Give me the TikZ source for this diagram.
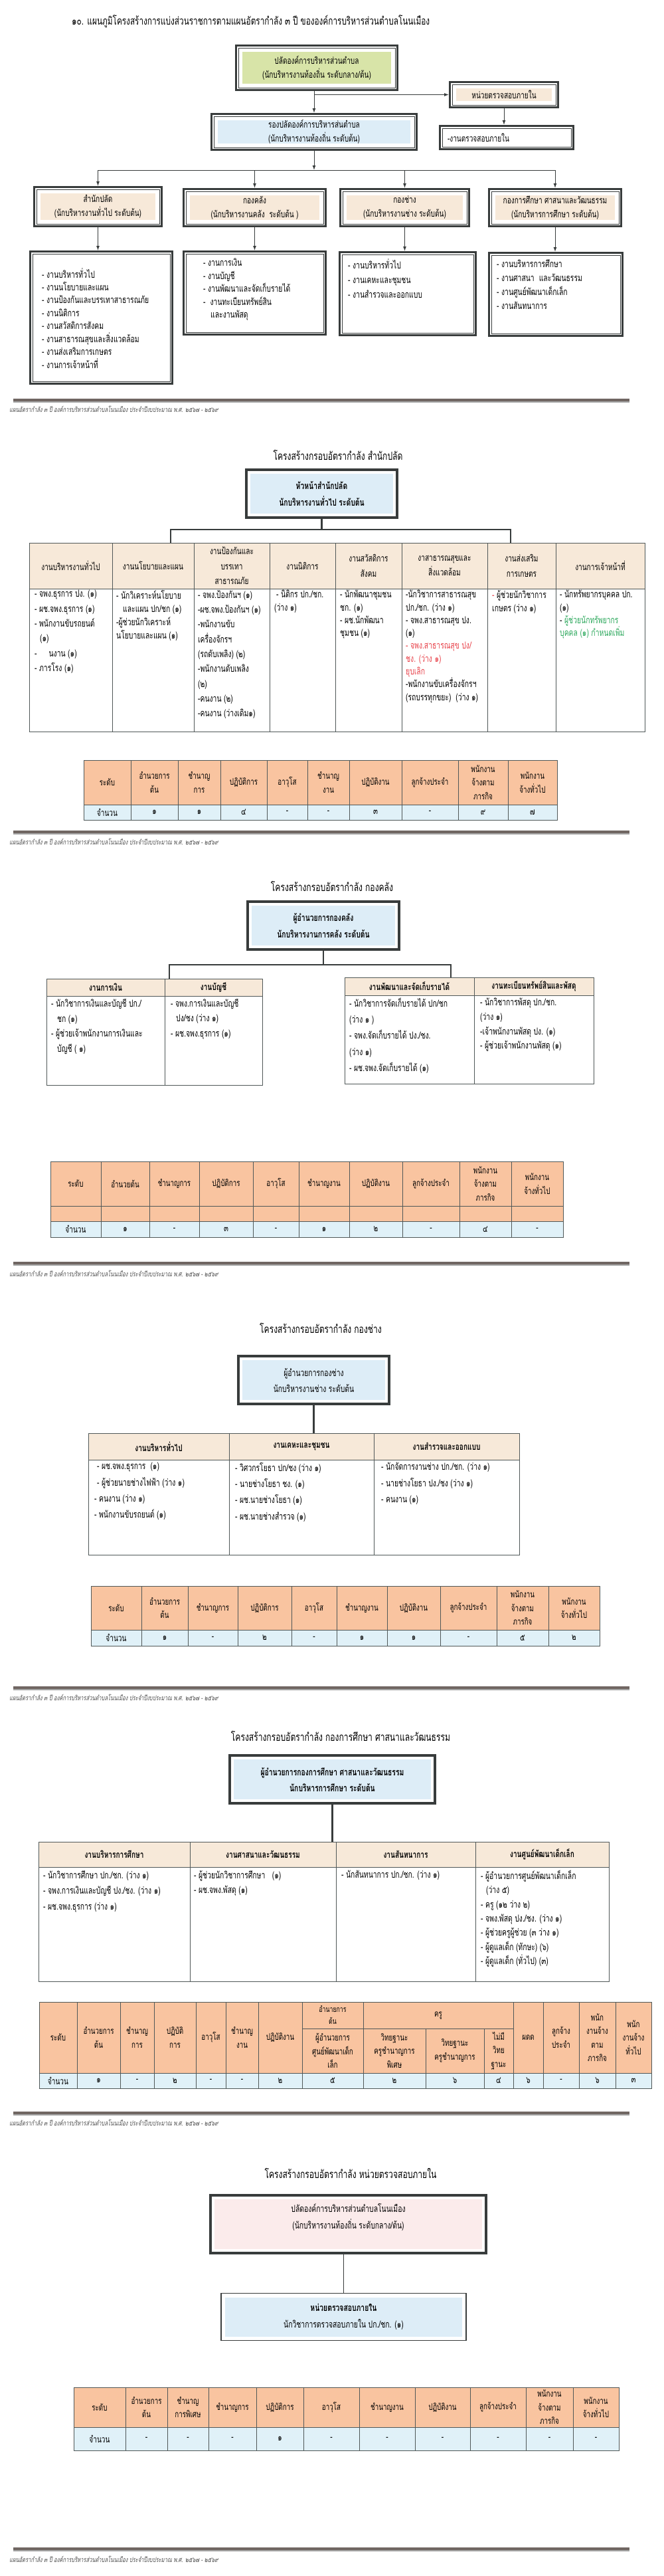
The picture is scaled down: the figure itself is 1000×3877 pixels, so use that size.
\documentclass[tikz,border=0pt]{standalone}
\usepackage{fontspec}
\newfontfamily\thai[Script=Thai,FakeStretch=0.72]{Loma}
\newfontfamily\thaifoot[Script=Thai,FakeStretch=0.72,FakeSlant=0.2]{Loma}
\usetikzlibrary{arrows.meta, positioning, calc}
\setlength{\lineskiplimit}{-20pt}
\definecolor{boxline}{RGB}{56,60,60}
\definecolor{gridline}{RGB}{80,88,88}
\definecolor{limefill}{RGB}{216,228,168}
\definecolor{skyfill}{RGB}{221,237,247}
\definecolor{peachfill}{RGB}{247,233,217}
\definecolor{salmonfill}{RGB}{249,196,160}
\definecolor{icefill}{RGB}{224,241,248}
\definecolor{rosefill}{RGB}{251,235,235}
\definecolor{footrule}{RGB}{112,102,98}
\definecolor{redtxt}{RGB}{232,64,72}
\definecolor{greentxt}{RGB}{44,168,92}
\tikzset{
    every node/.style={inner sep=0pt, font=\thai\fontsize{14}{21}\selectfont},
    arr/.style={-{Latex[length=7pt, width=5pt]}, draw=boxline, line width=1pt},
    link/.style={draw=boxline, line width=2.6pt},
    dframe/.style={rectangle, draw=boxline, line width=0.8pt, fill=white,
                   align=center, outer sep=5pt,
                   append after command={\pgfextra{\draw[boxline, line width=3.4pt]
                       ([shift={(1.7pt,-1.7pt)}]\tikzlastnode.north west) rectangle
                       ([shift={(-1.7pt,1.7pt)}]\tikzlastnode.south east);}}},
    tint/.style={path picture={\fill[#1]
                       ([shift={(6pt,-6pt)}]path picture bounding box.north west) rectangle
                       ([shift={(-6pt,6pt)}]path picture bounding box.south east);}},
    headbox/.style={rectangle, draw=boxline, line width=4.5pt, fill=white,
                    align=center, outer sep=2.25pt},
    listtxt/.style={anchor=north west, align=left,
                    font=\thai\fontsize{14.4}{#1}\selectfont},
    listtxt/.default=21,
    sectitle/.style={font=\thai\fontsize{16.8}{22}\selectfont},
    hcell/.style={rectangle, draw=gridline, line width=0.8pt, fill=peachfill,
                  align=center, font=\thai\fontsize{14}{22.5}\selectfont},
    hcellb/.style={hcell, font=\thai\bfseries\fontsize{14}{22.5}\selectfont},
    bcell/.style={rectangle, draw=gridline, line width=0.8pt, fill=white},
    shead/.style={rectangle, draw=gridline, line width=0.7pt, fill=salmonfill,
                  align=center, font=\thai\fontsize{13.6}{20.5}\selectfont},
    sval/.style={rectangle, draw=gridline, line width=0.7pt, fill=icefill,
                 font=\thai\fontsize{14}{16}\selectfont},
    foottxt/.style={anchor=west, text=black!70,
                    font=\thaifoot\fontsize{10.5}{12}\selectfont},
}
\begin{document}
\begin{tikzpicture}[x=1pt, y=-1pt]
    \useasboundingbox (0,0) rectangle (1000,3877);

    % ---------- overall structure ----------
    \node[anchor=west, font=\thai\fontsize{16.4}{18}\selectfont] (title1) at (108,32)
        {๑๐. แผนภูมิโครงสร้างการแบ่งส่วนราชการตามแผนอัตรากำลัง ๓ ปี ขององค์การบริหารส่วนตำบลโนนเมือง};
    \node[dframe, tint=limefill, minimum width=236, minimum height=60] (palad) at (477,102)
        {ปลัดองค์การบริหารส่วนตำบล\\(นักบริหารงานท้องถิ่น ระดับกลาง/ต้น)};
    \node[dframe, tint=peachfill, minimum width=156, minimum height=31] (audit) at (759,142.5)
        {หน่วยตรวจสอบภายใน};
    \node[dframe, minimum width=194, minimum height=28, text width=178, align=left] (auditjob) at (763,207)
        {-งานตรวจสอบภายใน};
    \node[dframe, tint=skyfill, minimum width=302, minimum height=47] (rong) at (473,198.5)
        {รองปลัดองค์การบริหารส่นตำบล\\(นักบริหารงานท้องถิ่น ระดับต้น)};

    \node[dframe, tint=peachfill, minimum width=185, minimum height=52] (sp) at (147.5,311)
        {สำนักปลัด\\(นักบริหารงานทั่วไป ระดับต้น)};
    \node[dframe, tint=peachfill, minimum width=207, minimum height=49] (fin) at (383.5,312.5)
        {กองคลัง\\(นักบริหารงานคลัง\ \ ระดับต้น )};
    \node[dframe, tint=peachfill, minimum width=187, minimum height=49] (eng) at (609.5,312.5)
        {กองช่าง\\(นักบริหารงานช่าง ระดับต้น)};
    \node[dframe, tint=peachfill, minimum width=192, minimum height=49] (edu) at (836,312.5)
        {กองการศึกษา ศาสนาและวัฒนธรรม\\(นักบริหารการศึกษา ระดับต้น)};

    \node[dframe, minimum width=207, minimum height=192] (listsp) at (152.5,478) {};
    \node[dframe, minimum width=207, minimum height=118] (listfin) at (383.5,441) {};
    \node[dframe, minimum width=198, minimum height=118] (listeng) at (614,442) {};
    \node[dframe, minimum width=194, minimum height=118] (listedu) at (837,443) {};
    \node[listtxt=19.45] (txtsp) at (63,403)
        {- งานบริหารทั่วไป\\- งานนโยบายและแผน\\- งานป้องกันและบรรเทาสาธารณภัย\\- งานนิติการ\\- งานสวัสดิการสังคม\\- งานสาธารณสุขและสิ่งแวดล้อม\\- งานส่งเสริมการเกษตร\\- งานการเจ้าหน้าที่};
    \node[listtxt=19.5] (txtfin) at (306,389)
        {- งานการเงิน\\- งานบัญชี\\- งานพัฒนาและจัดเก็บรายได้\\-\hspace{7pt}งานทะเบียนทรัพย์สิน\\\hspace*{11pt}และงานพัสดุ};
    \node[listtxt=22] (txteng) at (524,389)
        {- งานบริหารทั่วไป\\- งานเคหะและชุมชน\\- งานสำรวจและออกแบบ};
    \node[listtxt=21.3] (txtedu) at (748,390)
        {- งานบริหารการศึกษา\\- งานศาสนา\ \ และวัฒนธรรม\\- งานศูนย์พัฒนาเด็กเล็ก\\- งานสันทนาการ};

    \coordinate (bus) at (473,256);
    \draw[arr] (palad.south -| rong.north) -- (rong.north);
    \draw[arr] (audit.west -| rong.north) -- (audit.west);
    \draw[arr] (audit.south) -- (audit.south |- auditjob.north);
    \draw[arr] (rong.south) -- (rong.south |- bus);
    \draw[boxline, line width=1pt] (sp.north |- bus) -- (edu.north |- bus);
    \foreach \dv in {sp, fin, eng, edu} {
        \draw[arr] (\dv.north |- bus) -- (\dv.north);
        \draw[arr] (\dv.south) -- (\dv.south |- list\dv.north);
    }

    \draw[footrule, line width=3.5pt] (20,602) -- (948,602);
    \draw[black!35, line width=1.5pt] (20,605) -- (948,605);
    \node[foottxt] (foot1) at (14,616)
        {แผนอัตรากำลัง ๓ ปี องค์การบริหารส่วนตำบลโนนเมือง ประจำปีงบประมาณ พ.ศ. ๒๕๖๗ - ๒๕๖๙};

    % ---------- สำนักปลัด ----------
    \node[sectitle] (title2) at (509,685) {โครงสร้างกรอบอัตรากำลัง สำนักปลัด};
    \node[headbox, tint=skyfill, minimum width=227, minimum height=72,
          font=\thai\bfseries\fontsize{14.4}{25}\selectfont] (head2) at (484.5,743)
        {หัวหน้าสำนักปลัด\\นักบริหารงานทั่วไป ระดับต้น};

    \node[hcell, minimum width=125, minimum height=69] (t2h1) at (106.5,851.5) {งานบริหารงานทั่วไป};
    \node[hcell, minimum width=123, minimum height=69] (t2h2) at (230.5,851.5) {งานนโยบายและแผน};
    \node[hcell, minimum width=114, minimum height=69] (t2h3) at (349,851.5) {งานป้องกันและ\\บรรเทา\\สาธารณภัย};
    \node[hcell, minimum width=99, minimum height=69] (t2h4) at (455.5,851.5) {งานนิติการ};
    \node[hcell, minimum width=100, minimum height=69] (t2h5) at (555,851.5) {งานสวัสดิการ\\สังคม};
    \node[hcell, minimum width=129, minimum height=69] (t2h6) at (669.5,851.5) {งาสาธารณสุขและ\\สิ่งแวดล้อม};
    \node[hcell, minimum width=103, minimum height=69] (t2h7) at (785.5,851.5) {งานส่งเสริม\\การเกษตร};
    \node[hcell, minimum width=134, minimum height=69] (t2h8) at (904,851.5) {งานการเจ้าหน้าที่};
    \node[bcell, minimum width=125, minimum height=215] (t2b1) at (106.5,993.5) {};
    \node[bcell, minimum width=123, minimum height=215] (t2b2) at (230.5,993.5) {};
    \node[bcell, minimum width=114, minimum height=215] (t2b3) at (349,993.5) {};
    \node[bcell, minimum width=99, minimum height=215] (t2b4) at (455.5,993.5) {};
    \node[bcell, minimum width=100, minimum height=215] (t2b5) at (555,993.5) {};
    \node[bcell, minimum width=129, minimum height=215] (t2b6) at (669.5,993.5) {};
    \node[bcell, minimum width=103, minimum height=215] (t2b7) at (785.5,993.5) {};
    \node[bcell, minimum width=134, minimum height=215] (t2b8) at (904,993.5) {};

    \node[listtxt=22.4] (t2x1) at (52,888)
        {- จพง.ธุรการ ปง. (๑)\\- ผช.จพง.ธุรการ (๑)\\- พนักงานขับรถยนต์\\\hspace*{8pt}(๑)\\-\hspace{18pt}นงาน (๑)\\- ภารโรง (๑)};
    \node[listtxt=20] (t2x2) at (175,888)
        {- นักวิเคราะห์นโยบาย\\\hspace*{10pt}และแผน ปก/ชก (๑)\\-ผู้ช่วยนักวิเคราะห์\\นโยบายและแผน (๑)};
    \node[listtxt=22.3] (t2x3) at (298,888)
        {- จพง.ป้องกันฯ (๑)\\-ผช.จพง.ป้องกันฯ (๑)\\-พนักงานขับ\\เครื่องจักรฯ\\(รถดับเพลิง) (๒)\\-พนักงานดับเพลิง\\(๒)\\-คนงาน (๒)\\-คนงาน (ว่างเดิม๑)};
    \node[listtxt=19.5] (t2x4) at (413,888)
        {\hspace*{3pt}- นิติกร ปก./ชก.\\(ว่าง ๑)};
    \node[listtxt=19.3] (t2x5) at (512,888)
        {- นักพัฒนาชุมชน\\ชก. (๑)\\- ผช.นักพัฒนา\\ชุมชน (๑)};
    \node[listtxt=19.3] (t2x6) at (611,888)
        {-นักวิชาการสาธารณสุข\\ปก./ชก. (ว่าง ๑)\\- จพง.สาธารณสุข ปง.\\(๑)\\\textcolor{redtxt}{- จพง.สาธารณสุข ปง/}\\\textcolor{redtxt}{ชง. (ว่าง ๑)}\\\textcolor{redtxt}{ยุบเลิก}\\-พนักงานขับเครื่องจักรฯ\\(รถบรรทุกขยะ)\ \ (ว่าง ๑)};
    \node[listtxt=20] (t2x7) at (741,888)
        {\textcolor{redtxt}{-} ผู้ช่วยนักวิชาการ\\เกษตร (ว่าง ๑)};
    \node[listtxt=19.3] (t2x8) at (843,888)
        {- นักทรัพยากรบุคคล ปก.\\(๑)\\- \textcolor{greentxt}{ผู้ช่วยนักทรัพยากร}\\\textcolor{greentxt}{บุคคล (๑) กำหนดเพิ่ม}};

    \coordinate (j2l) at (257,797);
    \coordinate (j2r) at (769,797);
    \draw[link] (head2.south) -- (head2.south |- j2l);
    \draw[link] (j2l |- t2h1.north) -- (j2l) -- (j2r) -- (j2r |- t2h1.north);

    \foreach \xa/\xb/\hd/\val [count=\i] in {
            126/197/ระดับ/จำนวน, 197/268/{อำนวยการ\\ต้น}/๑, 268/332/{ชำนาญ\\การ}/๑,
            332/402/ปฏิบัติการ/๔, 402/463/อาวุโส/-, 463/526/{ชำนาญ\\งาน}/-,
            526/605/ปฏิบัติงาน/๓, 605/690/ลูกจ้างประจำ/-,
            690/765/{พนักงาน\\จ้างตาม\\ภารกิจ}/๙, 765/839/{พนักงาน\\จ้างทั่วไป}/๗} {
        \node[shead, minimum width=\xb-\xa, minimum height=67] (s2h\i) at ({(\xa+\xb)/2},1177.5) {\hd};
        \node[sval, minimum width=\xb-\xa, minimum height=23] (s2v\i) at ({(\xa+\xb)/2},1222.5) {\val};
    }

    \draw[footrule, line width=3.5pt] (20,1252) -- (948,1252);
    \draw[black!35, line width=1.5pt] (20,1255) -- (948,1255);
    \node[foottxt] (foot2) at (14,1267)
        {แผนอัตรากำลัง ๓ ปี องค์การบริหารส่วนตำบลโนนเมือง ประจำปีงบประมาณ พ.ศ. ๒๕๖๗ - ๒๕๖๙};

    % ---------- กองคลัง ----------
    \node[sectitle] (title3) at (500,1334) {โครงสร้างกรอบอัตรากำลัง กองคลัง};
    \node[headbox, tint=skyfill, minimum width=228, minimum height=72,
          font=\thai\bfseries\fontsize{14.4}{25}\selectfont] (head3) at (487,1393)
        {ผู้อำนวยการกองคลัง\\นักบริหารงานการคลัง ระดับต้น};

    \node[hcellb, minimum width=178, minimum height=26] (t3h1) at (159,1486) {งานการเงิน};
    \node[hcellb, minimum width=147, minimum height=26] (t3h2) at (321.5,1486) {งานบัญชี};
    \node[bcell, minimum width=178, minimum height=134] (t3b1) at (159,1566) {};
    \node[bcell, minimum width=147, minimum height=134] (t3b2) at (321.5,1566) {};
    \node[hcellb, minimum width=195, minimum height=27] (t3h3) at (616.5,1484.5) {งานพัฒนาและจัดเก็บรายได้};
    \node[hcellb, minimum width=180, minimum height=27] (t3h4) at (804,1484.5) {งานทะเบียนทรัพย์สินและพัสดุ};
    \node[bcell, minimum width=195, minimum height=133] (t3b3) at (616.5,1564.5) {};
    \node[bcell, minimum width=180, minimum height=133] (t3b4) at (804,1564.5) {};

    \node[listtxt=22.7] (t3x1) at (77,1503)
        {- นักวิชาการเงินและบัญชี ปก./\\\hspace*{9pt}ชก (๑)\\- ผู้ช่วยเจ้าพนักงานการเงินและ\\\hspace*{9pt}บัญชี ( ๑)};
    \node[listtxt=22.5] (t3x2) at (257,1503)
        {- จพง.การเงินและบัญชี\\\hspace*{8pt}ปง/ชง (ว่าง ๑)\\- ผช.จพง.ธุรการ (๑)};
    \node[listtxt=24.2] (t3x3) at (526,1502)
        {- นักวิชาการจัดเก็บรายได้ ปก/ชก\\(ว่าง ๑ )\\- จพง.จัดเก็บรายได้ ปง./ชง.\\(ว่าง ๑)\\- ผช.จพง.จัดเก็บรายได้ (๑)};
    \node[listtxt=21.7] (t3x4) at (723,1502)
        {- นักวิชาการพัสดุ ปก./ชก.\\(ว่าง ๑)\\-เจ้าพนักงานพัสดุ ปง. (๑)\\- ผู้ช่วยเจ้าพนักงานพัสดุ (๑)};

    \coordinate (j3l) at (255,1452);
    \coordinate (j3r) at (679,1452);
    \draw[link] (head3.south) -- (head3.south |- j3l);
    \draw[link] (j3l |- t3h1.north) -- (j3l) -- (j3r) -- (j3r |- t3h3.north);

    \foreach \xa/\xb/\hd/\val [count=\i] in {
            76/152/ระดับ/จำนวน, 152/225/อำนวยต้น/๑, 225/300/ชำนาญการ/-,
            300/381/ปฏิบัติการ/๓, 381/450/อาวุโส/-, 450/526/ชำนาญงาน/๑,
            526/606/ปฏิบัติงาน/๒, 606/692/ลูกจ้างประจำ/-,
            692/770/{พนักงาน\\จ้างตาม\\ภารกิจ}/๔, 770/848/{พนักงาน\\จ้างทั่วไป}/-} {
        \node[shead, minimum width=\xb-\xa, minimum height=67] (s3h\i) at ({(\xa+\xb)/2},1781.5) {\hd};
        \node[shead, minimum width=\xb-\xa, minimum height=23] (s3e\i) at ({(\xa+\xb)/2},1826.5) {};
        \node[sval, minimum width=\xb-\xa, minimum height=24] (s3v\i) at ({(\xa+\xb)/2},1850) {\val};
    }

    \draw[footrule, line width=3.5pt] (20,1901) -- (948,1901);
    \draw[black!35, line width=1.5pt] (20,1904) -- (948,1904);
    \node[foottxt] (foot3) at (14,1917)
        {แผนอัตรากำลัง ๓ ปี องค์การบริหารส่วนตำบลโนนเมือง ประจำปีงบประมาณ พ.ศ. ๒๕๖๗ - ๒๕๖๙};

    % ---------- กองช่าง ----------
    \node[sectitle] (title4) at (483,1999) {โครงสร้างกรอบอัตรากำลัง กองช่าง};
    \node[headbox, tint=skyfill, minimum width=227, minimum height=72,
          font=\thai\fontsize{14.4}{24}\selectfont] (head4) at (472.5,2077)
        {ผู้อำนวยการกองช่าง\\นักบริหารงานช่าง ระดับต้น};

    \node[hcellb, minimum width=212, minimum height=40] (t4h1) at (239,2177) {งานบริหารทั่วไป};
    \node[hcellb, minimum width=218, minimum height=40] (t4h2) at (454,2177) {งานเคหะและชุมชน};
    \node[hcellb, minimum width=219, minimum height=40] (t4h3) at (672.5,2177) {งานสำรวจและออกแบบ};
    \node[bcell, minimum width=212, minimum height=143] (t4b1) at (239,2268.5) {};
    \node[bcell, minimum width=218, minimum height=143] (t4b2) at (454,2268.5) {};
    \node[bcell, minimum width=219, minimum height=143] (t4b3) at (672.5,2268.5) {};

    \node[listtxt=24.3] (t4x1) at (142,2201)
        {\hspace*{4pt}- ผช.จพง.ธุรการ\ \ (๑)\\\hspace*{4pt}- ผู้ช่วยนายช่างไฟฟ้า (ว่าง ๑)\\- คนงาน (ว่าง ๑)\\- พนักงานขับรถยนต์ (๑)};
    \node[listtxt=24.3] (t4x2) at (354,2201)
        {- วิศวกรโยธา ปก/ชง (ว่าง ๑)\\- นายช่างโยธา ชง. (๑)\\- ผช.นายช่างโยธา (๑)\\- ผช.นายช่างสำรวจ (๑)};
    \node[listtxt=24.3] (t4x3) at (574,2201)
        {- นักจัดการงานช่าง ปก./ชก. (ว่าง ๑)\\- นายช่างโยธา ปง./ชง (ว่าง ๑)\\- คนงาน (๑)};

    \draw[link] (head4.south) -- (head4.south |- t4h1.north);

    \foreach \xa/\xb/\hd/\val [count=\i] in {
            137/213/ระดับ/จำนวน, 213/283/{อำนวยการ\\ต้น}/๑, 283/358/ชำนาญการ/-,
            358/439/ปฏิบัติการ/๒, 439/507/อาวุโส/-, 507/583/ชำนาญงาน/๑,
            583/663/ปฏิบัติงาน/๑, 663/748/ลูกจ้างประจำ/-,
            748/826/{พนักงาน\\จ้างตาม\\ภารกิจ}/๕, 826/903/{พนักงาน\\จ้างทั่วไป}/๒} {
        \node[shead, minimum width=\xb-\xa, minimum height=66] (s4h\i) at ({(\xa+\xb)/2},2420) {\hd};
        \node[sval, minimum width=\xb-\xa, minimum height=24] (s4v\i) at ({(\xa+\xb)/2},2465) {\val};
    }

    \draw[footrule, line width=3.5pt] (20,2540) -- (948,2540);
    \draw[black!35, line width=1.5pt] (20,2543) -- (948,2543);
    \node[foottxt] (foot4) at (14,2555)
        {แผนอัตรากำลัง ๓ ปี องค์การบริหารส่วนตำบลโนนเมือง ประจำปีงบประมาณ พ.ศ. ๒๕๖๗ - ๒๕๖๙};

    % ---------- กองการศึกษา ----------
    \node[sectitle] (title5) at (513,2613) {โครงสร้างกรอบอัตรากำลัง กองการศึกษา ศาสนาและวัฒนธรรม};
    \node[headbox, tint=skyfill, minimum width=309, minimum height=72,
          font=\thai\bfseries\fontsize{14.4}{24}\selectfont] (head5) at (500.5,2678)
        {ผู้อำนวยการกองการศึกษา ศาสนาและวัฒนธรรม\\นักบริหารการศึกษา ระดับต้น};

    \node[hcellb, minimum width=228, minimum height=38] (t5h1) at (172,2791) {งานบริหารการศึกษา};
    \node[hcellb, minimum width=220, minimum height=38] (t5h2) at (396,2791) {งานศาสนาและวัฒนธรรม};
    \node[hcellb, minimum width=210, minimum height=38] (t5h3) at (611,2791) {งานสันทนาการ};
    \node[hcellb, minimum width=201, minimum height=38] (t5h4) at (816.5,2791) {งานศูนย์พัฒนาเด็กเล็ก};
    \node[bcell, minimum width=228, minimum height=172] (t5b1) at (172,2896) {};
    \node[bcell, minimum width=220, minimum height=172] (t5b2) at (396,2896) {};
    \node[bcell, minimum width=210, minimum height=172] (t5b3) at (611,2896) {};
    \node[bcell, minimum width=201, minimum height=172] (t5b4) at (816.5,2896) {};

    \node[listtxt=23.5] (t5x1) at (65,2815)
        {- นักวิชาการศึกษา ปก./ชก. (ว่าง ๑)\\- จพง.การเงินและบัญชี ปง./ชง. (ว่าง ๑)\\- ผช.จพง.ธุรการ (ว่าง ๑)};
    \node[listtxt=22] (t5x2) at (292,2815)
        {- ผู้ช่วยนักวิชาการศึกษา\ \ \ (๑)\\- ผช.จพง.พัสดุ (๑)};
    \node[listtxt=22] (t5x3) at (514,2815)
        {- นักสันทนาการ ปก./ชก. (ว่าง ๑)};
    \node[listtxt=21.3] (t5x4) at (724,2815)
        {- ผู้อำนวยการศูนย์พัฒนาเด็กเล็ก\\\hspace*{8pt}(ว่าง ๕)\\- ครู (๑๒ ว่าง ๒)\\- จพง.พัสดุ ปง./ชง. (ว่าง ๑)\\- ผู้ช่วยครูผู้ช่วย (๓ ว่าง ๑)\\- ผู้ดูแลเด็ก (ทักษะ) (๖)\\- ผู้ดูแลเด็ก (ทั่วไป) (๓)};

    \draw[link] (head5.south) -- (head5.south |- t5h1.north);

    \foreach \xa/\xb/\hd/\val [count=\i] in {
            59/116/ระดับ/จำนวน, 116/181/{อำนวยการ\\ต้น}/๑, 181/232/{ชำนาญ\\การ}/-,
            232/295/{ปฏิบัติ\\การ}/๒, 295/340/อาวุโส/-, 340/389/{ชำนาญ\\งาน}/-,
            389/455/ปฏิบัติงาน/๒, 773/818/ผดด/๖, 818/872/{ลูกจ้าง\\ประจำ}/-,
            872/927/{พนัก\\งานจ้าง\\ตาม\\ภารกิจ}/๖, 927/981/{พนัก\\งานจ้าง\\ทั่วไป}/๓} {
        \node[shead, minimum width=\xb-\xa, minimum height=107] (s5h\i) at ({(\xa+\xb)/2},3066.5) {\hd};
        \node[sval, minimum width=\xb-\xa, minimum height=23] (s5v\i) at ({(\xa+\xb)/2},3131.5) {\val};
    }
    \foreach \xa/\xb/\hd/\val [count=\i] in {
            455/547/{ผู้อำนวยการ\\ศูนย์พัฒนาเด็ก\\เล็ก}/๕, 547/641/{วิทยฐานะ\\ครูชำนาญการ\\พิเศษ}/๒,
            641/729/{วิทยฐานะ\\ครูชำนาญการ}/๖, 729/773/{ไม่มี\\วิทย\\ฐานะ}/๔} {
        \node[shead, minimum width=\xb-\xa, minimum height=67] (s5s\i) at ({(\xa+\xb)/2},3086.5) {\hd};
        \node[sval, minimum width=\xb-\xa, minimum height=23] (s5w\i) at ({(\xa+\xb)/2},3131.5) {\val};
    }
    \node[shead, minimum width=92, minimum height=40,
          font=\thai\fontsize{12.2}{18}\selectfont] (s5g1) at (501,3033) {อำนายการ\\ต้น};
    \node[shead, minimum width=226, minimum height=40] (s5g2) at (660,3033) {ครู};

    \draw[footrule, line width=3.5pt] (20,3180) -- (948,3180);
    \draw[black!35, line width=1.5pt] (20,3183) -- (948,3183);
    \node[foottxt] (foot5) at (14,3195)
        {แผนอัตรากำลัง ๓ ปี องค์การบริหารส่วนตำบลโนนเมือง ประจำปีงบประมาณ พ.ศ. ๒๕๖๗ - ๒๕๖๙};

    % ---------- หน่วยตรวจสอบภายใน ----------
    \node[sectitle] (title6) at (528,3271) {โครงสร้างกรอบอัตรากำลัง หน่วยตรวจสอบภายใน};
    \node[headbox, tint=rosefill, minimum width=415, minimum height=87,
          font=\thai\fontsize{14.4}{25}\selectfont] (head6) at (524.5,3347.5)
        {ปลัดองค์การบริหารส่วนตำบลโนนเมือง\\(นักบริหารงานท้องถิ่น ระดับกลาง/ต้น)\\\mbox{}};
    \node[rectangle, draw=boxline, line width=1.6pt, fill=white, tint=skyfill, align=center,
          minimum width=369, minimum height=71, font=\thai\fontsize{14.4}{25}\selectfont] (sub6) at (517.5,3487)
        {\textbf{หน่วยตรวจสอบภายใน}\\นักวิชาการตรวจสอบภายใน ปก./ชก. (๑)};
    \draw[boxline, line width=1.2pt] (sub6.north |- head6.south) -- (sub6.north);

    \foreach \xa/\xb/\hd/\val [count=\i] in {
            111/189/ระดับ/จำนวน, 189/252/{อำนวยการ\\ต้น}/-, 252/314/{ชำนาญ\\การพิเศษ}/-,
            314/386/ชำนาญการ/-, 386/457/ปฏิบัติการ/๑, 457/541/อาวุโส/-,
            541/625/ชำนาญงาน/-, 625/708/ปฏิบัติงาน/-, 708/792/ลูกจ้างประจำ/-,
            792/863/{พนักงาน\\จ้างตาม\\ภารกิจ}/-, 863/932/{พนักงาน\\จ้างทั่วไป}/-} {
        \node[shead, minimum width=\xb-\xa, minimum height=60] (s6h\i) at ({(\xa+\xb)/2},3623) {\hd};
        \node[sval, minimum width=\xb-\xa, minimum height=35] (s6v\i) at ({(\xa+\xb)/2},3670.5) {\val};
    }

    \draw[footrule, line width=3.5pt] (20,3836) -- (948,3836);
    \draw[black!35, line width=1.5pt] (20,3839) -- (948,3839);
    \node[foottxt] (foot6) at (14,3852)
        {แผนอัตรากำลัง ๓ ปี องค์การบริหารส่วนตำบลโนนเมือง ประจำปีงบประมาณ พ.ศ. ๒๕๖๗ - ๒๕๖๙};
\end{tikzpicture}
\end{document}
